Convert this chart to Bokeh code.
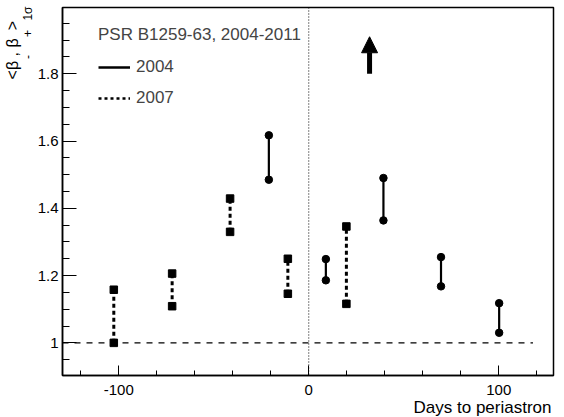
from bokeh.plotting import figure
from bokeh.models import (ColumnDataSource, FixedTicker, CustomJSTickFormatter, Span, Title,
                          Arrow, NormalHead, Legend, LegendItem, Range1d)
from bokeh.embed import file_html
from bokeh.resources import INLINE

NAN = float("nan")

# ---------------- data ----------------
days_2004 = [-21.0, 9.0, 39.3, 69.6, 100.2]
low_2004 = [1.485, 1.186, 1.364, 1.168, 1.030]
high_2004 = [1.617, 1.249, 1.490, 1.255, 1.118]

days_2007 = [-102.6, -71.9, -41.4, -11.0, 19.8]
low_2007 = [1.000, 1.109, 1.330, 1.146, 1.116]
high_2007 = [1.158, 1.206, 1.429, 1.250, 1.346]

unity_days = [-129.6, 118.0]
unity_level = [1.0, 1.0]
periastron_day = 0.0

arrow_day = 32.0
arrow_from = 1.80
arrow_to = 1.91

x_major = [-100, 0, 100]
x_minor = [-120, -80, -60, -40, -20, 20, 40, 60, 80, 120]
y_major = [1.0, 1.2, 1.4, 1.6, 1.8, 2.0]
y_minor = [0.95, 1.05, 1.10, 1.15, 1.25, 1.30, 1.35, 1.45, 1.50, 1.55,
           1.65, 1.70, 1.75, 1.85, 1.90, 1.95]

legend_title = "PSR B1259-63, 2004-2011"
series_names = ["2004", "2007"]
x_title = "Days to periastron"
# y title: main line with gaps where the subscripts go, and the subscripts line
y_title_main = "<β\u00a0, β\u2002>"
y_title_sub = "-\u2003\u2002+\u2002\u00a01σ"

# ---------------- layout ----------------
FONT = "Liberation Sans"
W, H = 564, 417
FL, FR, FT, FB = 62, 553, 7, 375   # frame edges in canvas pixels
X0, X1 = -129.6, 128.8
Y0, Y1 = 0.903, 1.997

p = figure(width=W, height=H, output_backend="svg", toolbar_location=None,
           x_range=Range1d(X0, X1), y_range=Range1d(Y0, Y1),
           min_border_left=FL, min_border_right=W - FR,
           min_border_top=FT, min_border_bottom=H - FB)
p.xgrid.visible = False
p.ygrid.visible = False
p.outline_line_color = "black"
p.outline_line_width = 1.5
p.background_fill_color = "white"
p.border_fill_color = "white"

xa = p.xaxis[0]
xa.ticker = FixedTicker(ticks=x_major, minor_ticks=x_minor)
xa.formatter = CustomJSTickFormatter(code="return tick.toFixed(0)")
xa.major_tick_in, xa.major_tick_out = 10, 0
xa.minor_tick_in, xa.minor_tick_out = 5, 0
xa.major_label_standoff = 9
ya = p.yaxis[0]
ya.ticker = FixedTicker(ticks=y_major, minor_ticks=y_minor)
ya.formatter = CustomJSTickFormatter(code="return (Math.round(tick*10)/10).toString()")
ya.major_tick_in, ya.major_tick_out = 14, 0
ya.minor_tick_in, ya.minor_tick_out = 7, 0
ya.major_label_standoff = 4
for ax in (xa, ya):
    ax.axis_line_width = 1.5
    ax.axis_line_color = "black"
    ax.major_tick_line_color = "black"
    ax.minor_tick_line_color = "black"
    ax.major_label_text_font = FONT
    ax.major_label_text_font_size = "15px"
    ax.major_label_text_color = "black"
    ax.axis_label = None

# reference lines
p.line(unity_days, unity_level, line_color="black", line_width=1.2, line_dash="6 6")
p.add_layout(Span(location=periastron_day, dimension="height", line_color="black",
                  line_width=1, line_dash="1 2"))

# 2004 (solid, circles)
s04 = ColumnDataSource(dict(d=days_2004, lo=low_2004, hi=high_2004))
p.segment(x0="d", y0="lo", x1="d", y1="hi", source=s04, line_color="black", line_width=2.2)
p.scatter("d", "lo", source=s04, marker="circle", size=7.5, color="black")
p.scatter("d", "hi", source=s04, marker="circle", size=7.5, color="black")

# 2007 (dotted, squares)
s07 = ColumnDataSource(dict(d=days_2007, lo=low_2007, hi=high_2007))
p.segment(x0="d", y0="lo", x1="d", y1="hi", source=s07, line_color="black",
          line_width=3, line_dash="4 3")
p.scatter("d", "lo", source=s07, marker="square", size=7.5, color="black")
p.scatter("d", "hi", source=s07, marker="square", size=7.5, color="black")

# legend-only renderers (nothing drawn in the plot)
leg04 = p.segment(x0=[NAN], y0=[NAN], x1=[NAN], y1=[NAN], line_color="black", line_width=2.5)
leg07 = p.segment(x0=[NAN], y0=[NAN], x1=[NAN], y1=[NAN], line_color="black",
                  line_width=2.5, line_dash="3 3")
legend = Legend(items=[LegendItem(label=series_names[0], renderers=[leg04]),
                       LegendItem(label=series_names[1], renderers=[leg07])],
                location=(36, 267), title=legend_title,
                title_text_font=FONT, title_text_font_size="17px",
                title_text_font_style="normal", title_standoff=12,
                label_text_font=FONT, label_text_font_size="17px",
                glyph_width=32, glyph_height=20, label_height=20,
                spacing=11, label_standoff=6, padding=0, margin=0,
                border_line_color=None, background_fill_alpha=0)
p.add_layout(legend)

# arrow
p.add_layout(Arrow(end=NormalHead(size=16, fill_color="black", line_color="black"),
                   x_start=arrow_day, y_start=arrow_from, x_end=arrow_day, y_end=arrow_to,
                   line_color="black", line_width=5))

# x axis title, right aligned (ROOT style)
p.add_layout(Title(text=x_title, align="right", offset=2, standoff=-4,
                   text_font=FONT, text_font_size="17px", text_font_style="normal",
                   text_color="black"), "below")

# y axis title: subscripts column (inner) then main column (outer)
p.add_layout(Title(text=y_title_sub, align="right", offset=-1, standoff=0,
                   text_font=FONT, text_font_size="12px", text_font_style="normal",
                   text_color="black"), "left")
p.add_layout(Title(text=y_title_main, align="right", offset=13.5, standoff=-4,
                   text_font=FONT, text_font_size="16px", text_font_style="normal",
                   text_color="black"), "left")

open("out.html", "w").write(file_html(p, INLINE))
